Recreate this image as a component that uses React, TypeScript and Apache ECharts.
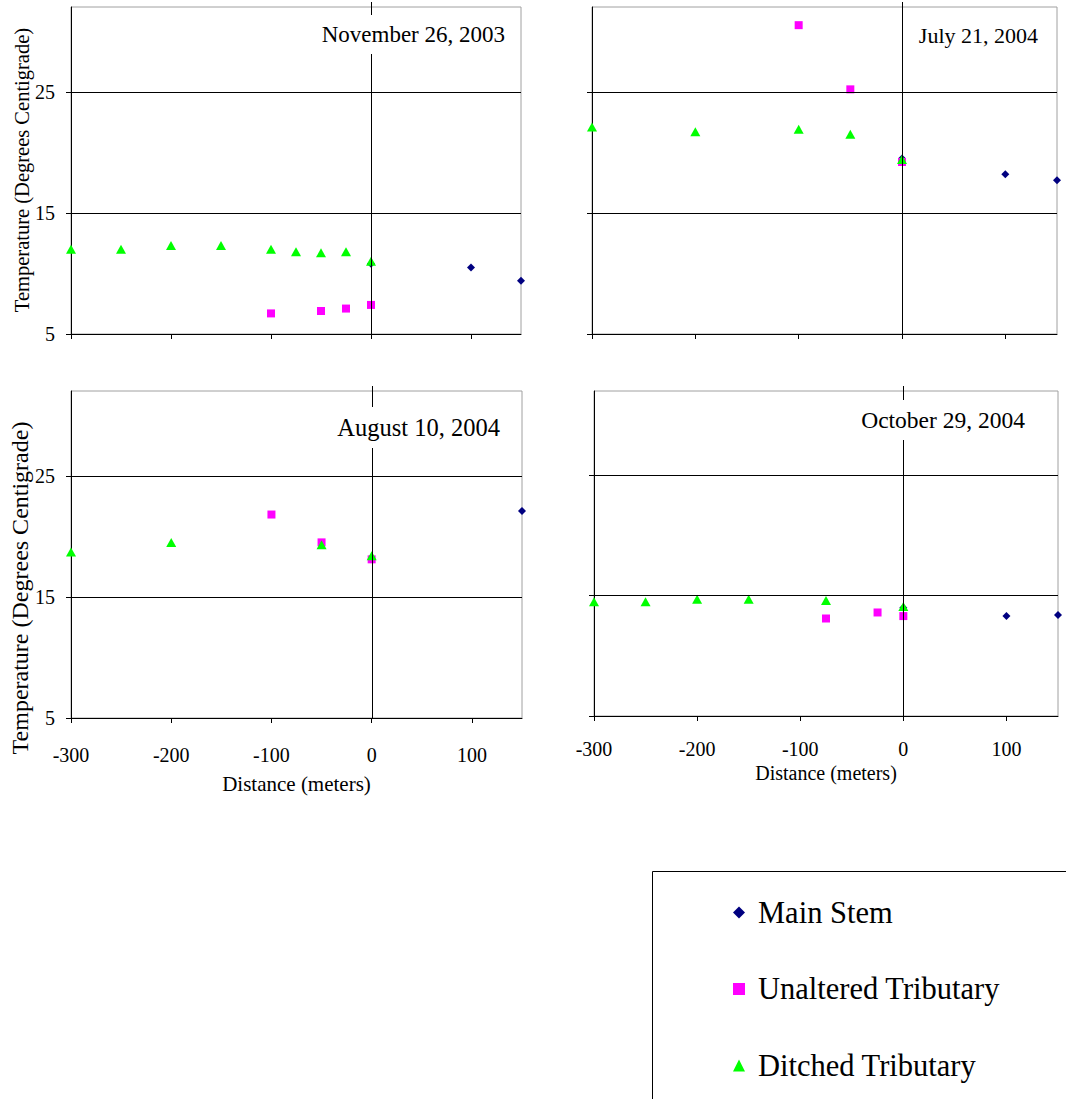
import React, { useEffect, useRef } from "react";
import * as echarts from "echarts";

const FONT = "'Liberation Serif', 'Times New Roman', serif";

const seriesNames = ["Main Stem", "Unaltered Tributary", "Ditched Tributary"];
const seriesColors = ["#000080", "#FF00FF", "#00FF00"];
const seriesSymbols = ["diamond", "rect", "triangle"];
const seriesSymbolSizes: any[] = [8, 8, [10, 9]];

const panelTitles = ["November 26, 2003", "July 21, 2004", "August 10, 2004", "October 29, 2004"];
const xTickValues = [-300, -200, -100, 0, 100];
const yTickValues = [5, 15, 25];
const gridLineValues = [15, 25];
const yAxisTitle = "Temperature (Degrees Centigrade)";
const xAxisTitle = "Distance (meters)";

// [distance (m), temperature (°C)]
const nov2003MainStem = [[0, 10.8], [100, 10.5], [150, 9.4]];
const nov2003Unaltered = [[-100, 6.7], [-50, 6.9], [-25, 7.1], [0, 7.4]];
const nov2003Ditched = [[-300, 12.0], [-250, 12.0], [-200, 12.3], [-150, 12.3], [-100, 12.0], [-75, 11.8], [-50, 11.7], [-25, 11.8], [0, 11.0]];

const jul2004MainStem = [[0, 19.5], [100, 18.2], [150, 17.7]];
const jul2004Unaltered = [[-100, 30.5], [-50, 25.2], [0, 19.2]];
const jul2004Ditched = [[-300, 22.1], [-200, 21.7], [-100, 21.9], [-50, 21.5], [0, 19.4]];

const aug2004MainStem = [[150, 22.1]];
const aug2004Unaltered = [[-100, 21.8], [-50, 19.5], [0, 18.1]];
const aug2004Ditched = [[-300, 18.7], [-200, 19.5], [-50, 19.3], [0, 18.4]];

const oct2004MainStem = [[0, 14.0], [100, 13.3], [150, 13.4]];
const oct2004Unaltered = [[-75, 13.1], [-25, 13.6], [0, 13.3]];
const oct2004Ditched = [[-300, 14.5], [-250, 14.5], [-200, 14.7], [-150, 14.7], [-75, 14.6], [0, 14.1]];

const panelData = [
  [nov2003MainStem, nov2003Unaltered, nov2003Ditched],
  [jul2004MainStem, jul2004Unaltered, jul2004Ditched],
  [aug2004MainStem, aug2004Unaltered, aug2004Ditched],
  [oct2004MainStem, oct2004Unaltered, oct2004Ditched],
];

const panelLayout = [
  { left: 71, top: 7, width: 450, height: 327, showX: false, showY: true, titleRight: 553, titleTop: 15, titleSize: 23, xLabelMargin: 27, xNameGap: 55, xNameSize: 21 },
  { left: 592, top: 7, width: 465, height: 327, showX: false, showY: false, titleRight: 20, titleTop: 16, titleSize: 22, xLabelMargin: 23, xNameGap: 47, xNameSize: 20 },
  { left: 71, top: 391, width: 451, height: 327, showX: true, showY: true, titleRight: 558, titleTop: 407, titleSize: 24.5, xLabelMargin: 27, xNameGap: 55, xNameSize: 21 },
  { left: 594, top: 391, width: 464, height: 325, showX: true, showY: false, titleRight: 33, titleTop: 400, titleSize: 23.5, xLabelMargin: 23, xNameGap: 47, xNameSize: 20 },
];

const yTitles = [
  { x: 22, y: 170, size: 20.5 },
  null,
  { x: 19.5, y: 588, size: 24 },
  null,
];

export default function App() {
  const ref = useRef<HTMLDivElement>(null);

  useEffect(() => {
    if (!ref.current) return;
    const chart = echarts.init(ref.current, null, { renderer: "svg" });

    const grid = panelLayout.map((p) => ({
      left: p.left,
      top: p.top,
      width: p.width,
      height: p.height,
      show: true,
      borderColor: "#a0a0a0",
      borderWidth: 1,
      backgroundColor: "transparent",
    }));

    const xAxis = panelLayout.map((p, i) => ({
      type: "value",
      gridIndex: i,
      min: -300,
      max: 150,
      name: p.showX ? xAxisTitle : "",
      nameLocation: "middle",
      nameGap: p.xNameGap,
      nameTextStyle: { fontFamily: FONT, fontSize: p.xNameSize, color: "#000" },
      axisLine: { show: true, onZero: false, lineStyle: { color: "#000", width: 1 } },
      axisTick: { show: true, inside: false, length: 5, customValues: xTickValues, lineStyle: { color: "#000" } },
      axisLabel: {
        show: p.showX,
        customValues: xTickValues,
        fontFamily: FONT,
        fontSize: 20,
        color: "#000",
        margin: p.xLabelMargin,
      },
      splitLine: { show: false },
    }));

    const yAxis = panelLayout.map((p, i) => ({
      type: "value",
      gridIndex: i,
      min: 5,
      max: 32,
      axisLine: { show: true, onZero: false, lineStyle: { color: "#000", width: 1 } },
      axisTick: { show: true, inside: false, length: 5, customValues: yTickValues, lineStyle: { color: "#000" } },
      axisLabel: {
        show: p.showY,
        customValues: yTickValues,
        fontFamily: FONT,
        fontSize: 20,
        color: "#000",
        margin: 16,
      },
      splitLine: { show: false },
    }));

    const series: any[] = [];
    panelData.forEach((sets, i) => {
      sets.forEach((data, k) => {
        const s: any = {
          type: "scatter",
          name: seriesNames[k],
          xAxisIndex: i,
          yAxisIndex: i,
          data,
          symbol: seriesSymbols[k],
          symbolSize: seriesSymbolSizes[k],
          itemStyle: { color: seriesColors[k], opacity: 1 },
          emphasis: { disabled: true },
          clip: false,
        };
        if (k === 0) {
          s.markLine = {
            silent: true,
            symbol: ["none", "none"],
            label: { show: false },
            lineStyle: { color: "#000", width: 1, type: "solid" },
            emphasis: { disabled: true },
            data: gridLineValues.map((v) => ({ yAxis: v })),
          };
        }
        series.push(s);
      });
    });

    const title = panelLayout.map((p, i) => ({
      text: panelTitles[i],
      right: p.titleRight,
      top: p.titleTop,
      backgroundColor: "#fff",
      padding: [8, 8, 8, 8],
      z: 10,
      textStyle: { fontFamily: FONT, fontSize: p.titleSize, fontWeight: "normal", color: "#000" },
    }));

    chart.setOption({
      animation: false,
      backgroundColor: "#fff",
      grid,
      xAxis,
      yAxis,
      series,
      title,
      legend: {
        left: 733,
        top: 897,
        orient: "vertical",
        data: seriesNames,
        itemWidth: 12,
        itemHeight: 12,
        itemGap: 45.5,
        padding: 0,
        selectedMode: false,
        textStyle: { fontFamily: FONT, fontSize: 30.5, lineHeight: 30, color: "#000", padding: [0, 0, 0, 8] },
      },
    });

    const graphics: any[] = [];
    panelLayout.forEach((p, i) => {
      const top = chart.convertToPixel({ xAxisIndex: i, yAxisIndex: i } as any, [0, 32]) as number[];
      const bot = chart.convertToPixel({ xAxisIndex: i, yAxisIndex: i } as any, [0, 5]) as number[];
      const x = Math.round(top[0]) + 0.5;
      graphics.push({
        type: "line",
        z: 5,
        silent: true,
        shape: { x1: x, y1: top[1] - 5, x2: x, y2: bot[1] },
        style: { stroke: "#000", lineWidth: 1 },
      });
    });
    yTitles.forEach((t) => {
      if (!t) return;
      graphics.push({
        type: "text",
        x: t.x,
        y: t.y,
        rotation: Math.PI / 2,
        z: 10,
        silent: true,
        style: {
          text: yAxisTitle,
          font: `${t.size}px ${FONT}`,
          fill: "#000",
          align: "center",
          verticalAlign: "middle",
          textAlign: "center",
          textVerticalAlign: "middle",
        },
      });
    });
    // legend frame (extends past the page edge as in the original)
    graphics.push({
      type: "rect",
      z: 1,
      silent: true,
      shape: { x: 652.5, y: 871.5, width: 600, height: 400 },
      style: { fill: "none", stroke: "#000", lineWidth: 1 },
    });
    chart.setOption({ graphic: graphics });

    return () => chart.dispose();
  }, []);

  return (
    <div
      ref={ref}
      style={{ position: "absolute", left: 0, top: 0, width: 1066, height: 1099, background: "#fff" }}
    />
  );
}
